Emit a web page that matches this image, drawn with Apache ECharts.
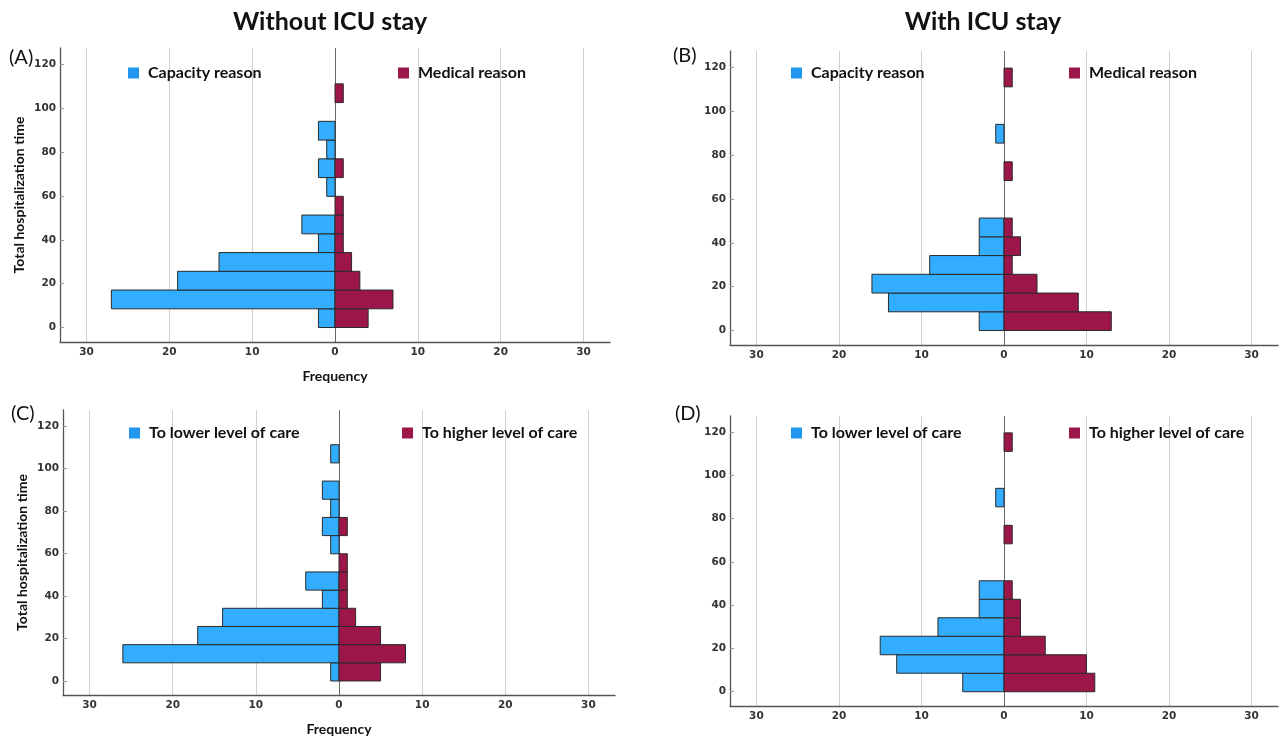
<!DOCTYPE html>
<html>
<head>
<meta charset="utf-8">
<script src="https://cdn.jsdelivr.net/npm/echarts@6/dist/echarts.min.js"></script>
<style>
html,body{margin:0;padding:0;background:#fff;}
#chart{width:1281px;height:737px;}
</style>
</head>
<body>
<div id="chart"></div>
<script>
// ---- data ----
const binWidth = 8.55;            // hospitalization-time bin width
const yTicks = [0, 20, 40, 60, 80, 100, 120];
const xTicks = [-30, -20, -10, 0, 10, 20, 30];

const capacityA = [2, 27, 19, 14, 2, 4, 0, 1, 2, 1, 2, 0, 0, 0];
const medicalA  = [4, 7, 3, 2, 1, 1, 1, 0, 1, 0, 0, 0, 1, 0];
const capacityB = [3, 14, 16, 9, 3, 3, 0, 0, 0, 0, 1, 0, 0, 0];
const medicalB  = [13, 9, 4, 1, 2, 1, 0, 0, 1, 0, 0, 0, 0, 1];
const lowerC    = [1, 26, 17, 14, 2, 4, 0, 1, 2, 1, 2, 0, 1, 0];
const higherC   = [5, 8, 5, 2, 1, 1, 1, 0, 1, 0, 0, 0, 0, 0];
const lowerD    = [5, 13, 15, 8, 3, 3, 0, 0, 0, 0, 1, 0, 0, 0];
const higherD   = [11, 10, 5, 2, 2, 1, 0, 0, 1, 0, 0, 0, 0, 1];

const panelTitles = ['Without ICU stay', 'With ICU stay'];
const panelLabels = ['(A)', '(B)', '(C)', '(D)'];
const leftNames  = ['Capacity reason', 'Capacity reason', 'To lower level of care', 'To lower level of care'];
const rightNames = ['Medical reason', 'Medical reason', 'To higher level of care', 'To higher level of care'];

// ---- styling ----
const BLUE = '#33adff', BLUE_LEG = '#2196ee', RED = '#9c1649', RED_LEG = '#9c1649';
const FONT = 'Lato, "Open Sans", sans-serif';
const TICKFONT = '"DejaVu Sans", sans-serif';

const grids = [
  {left: 60, top: 48, width: 550, height: 294},
  {left: 730, top: 51, width: 548, height: 294},
  {left: 63, top: 410, width: 552, height: 291},
  {left: 730, top: 416, width: 548, height: 290}
];
const showXName = [true, false, true, false];
const showYName = [true, false, true, false];

function toData(counts, sign) {
  const out = [];
  counts.forEach((c, i) => { if (c !== 0) out.push([i * binWidth, (i + 1) * binWidth, sign * c]); });
  return out;
}

function renderBin(params, api) {
  const y0 = api.value(0), y1 = api.value(1), v = api.value(2);
  const p0 = api.coord([0, y0]);
  const p1 = api.coord([v, y1]);
  return {
    type: 'rect',
    shape: {x: Math.min(p0[0], p1[0]), y: Math.min(p0[1], p1[1]),
            width: Math.abs(p1[0] - p0[0]), height: Math.abs(p0[1] - p1[1])},
    style: {fill: api.visual('color'), stroke: '#2a2a2a', lineWidth: 1}
  };
}

const panels = [[capacityA, medicalA], [capacityB, medicalB], [lowerC, higherC], [lowerD, higherD]];

const xAxes = [], yAxes = [], series = [], legends = [];
const legendPos = [[128, 398, 65], [791, 1069, 65], [129, 402, 425], [791, 1069, 425]];

panels.forEach((p, k) => {
  xAxes.push({
    type: 'value', gridIndex: k, min: -33.2, max: 33.2,
    name: showXName[k] ? 'Frequency' : '', nameLocation: 'middle', nameGap: 27,
    nameTextStyle: {fontFamily: FONT, fontWeight: 'bold', fontSize: 14, color: '#111'},
    axisLine: {show: true, onZero: false, lineStyle: {color: '#555', width: 1.3}},
    axisTick: {show: false, customValues: xTicks},
    axisLabel: {customValues: xTicks, formatter: v => String(Math.abs(v)),
                fontFamily: TICKFONT, fontWeight: 'bold', fontSize: 10.5, color: '#333', margin: 5},
    splitLine: {show: true, lineStyle: {color: ['#d0d0d0', '#d0d0d0', '#d0d0d0', '#666', '#d0d0d0', '#d0d0d0', '#d0d0d0'], width: 1}}
  });
  yAxes.push({
    type: 'value', gridIndex: k, min: -6.6, max: 127.5,
    name: showYName[k] ? 'Total hospitalization time' : '', nameLocation: 'middle', nameGap: 34,
    nameTextStyle: {fontFamily: FONT, fontWeight: 'bold', fontSize: 14, color: '#111'},
    axisLine: {show: true, onZero: false, lineStyle: {color: '#555', width: 1.3}},
    axisTick: {show: true, inside: true, length: 4, customValues: yTicks, lineStyle: {color: '#999'}},
    axisLabel: {customValues: yTicks, fontFamily: TICKFONT, fontWeight: 'bold', fontSize: 10.5, color: '#333', margin: 4},
    splitLine: {show: false}
  });
  series.push({
    type: 'custom', name: leftNames[k], xAxisIndex: k, yAxisIndex: k,
    itemStyle: {color: BLUE}, renderItem: renderBin,
    encode: {x: 2, y: [0, 1]}, data: toData(p[0], -1)
  });
  series.push({
    type: 'custom', name: rightNames[k], xAxisIndex: k, yAxisIndex: k,
    itemStyle: {color: RED}, renderItem: renderBin,
    encode: {x: 2, y: [0, 1]}, data: toData(p[1], 1)
  });
  const lp = legendPos[k];
  legends.push({
    left: lp[0], top: lp[2], padding: 0, icon: 'rect', itemWidth: 11, itemHeight: 11,
    selectedMode: false,
    textStyle: {fontFamily: FONT, fontWeight: 'bold', fontSize: 16, color: '#111', padding: [0, 0, 0, 4]},
    data: [{name: leftNames[k], itemStyle: {color: BLUE_LEG}}]
  });
  legends.push({
    left: lp[1], top: lp[2], padding: 0, icon: 'rect', itemWidth: 11, itemHeight: 11,
    selectedMode: false,
    textStyle: {fontFamily: FONT, fontWeight: 'bold', fontSize: 16, color: '#111', padding: [0, 0, 0, 4]},
    data: [{name: rightNames[k], itemStyle: {color: RED_LEG}}]
  });
});

const labelPos = [[9, 58], [673, 56], [11, 414], [675, 414]];
const graphics = [
  {type: 'text', x: 330, y: 22, style: {text: panelTitles[0], font: 'bold 25px ' + FONT, fill: '#111', align: 'center', verticalAlign: 'middle'}},
  {type: 'text', x: 983, y: 22, style: {text: panelTitles[1], font: 'bold 25px ' + FONT, fill: '#111', align: 'center', verticalAlign: 'middle'}}
];
panelLabels.forEach((t, i) => {
  graphics.push({type: 'text', x: labelPos[i][0], y: labelPos[i][1],
    style: {text: t, font: '20px ' + FONT, fill: '#111', verticalAlign: 'middle'}});
});

const chart = echarts.init(document.getElementById('chart'), null, {renderer: 'canvas'});
chart.setOption({
  backgroundColor: '#fff',
  animation: false,
  grid: grids,
  xAxis: xAxes,
  yAxis: yAxes,
  legend: legends,
  series: series,
  graphic: graphics
});
</script>
</body>
</html>
